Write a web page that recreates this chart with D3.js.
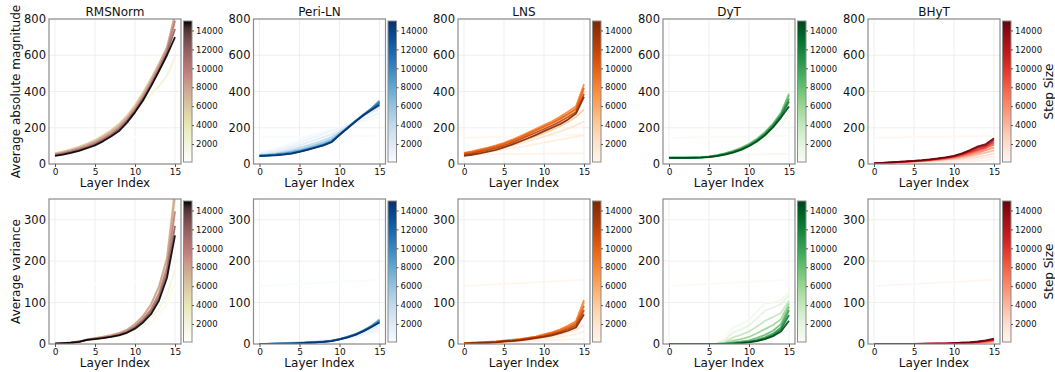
<!DOCTYPE html>
<html>
<head>
<meta charset="utf-8">
<script src="https://cdn.jsdelivr.net/npm/d3@7/dist/d3.min.js"></script>
<style>
  body { margin: 0; background: #fff; }
  svg { font-family: "DejaVu Sans", sans-serif; }
</style>
</head>
<body>
<svg id="chart" width="1055" height="372"></svg>
<script>
const layers = [0, 1, 2, 3, 4, 5, 6, 7, 8, 9, 10, 11, 12, 13, 14, 15];
const steps = [100, 500, 1000, 2000, 4000, 6000, 8000, 10000, 12000, 15000];
const methods = ["RMSNorm", "Peri-LN", "LNS", "DyT", "BHyT"];
const layerTicks = [0, 5, 10, 15];
const magTicks = [0, 200, 400, 600, 800];
const varTicks = [0, 100, 200, 300];
const stepTicks = [2000, 4000, 6000, 8000, 10000, 12000, 14000];

// average absolute magnitude, one row per step
const rmsnormMag = [
  [140,141,142,143,144,145,146,147,148,149,150,151,152,153,154,155],
  [56,65,76,89,105,124,147,174,206,245,290,335,378,425,478,560],
  [57,66,78,91,108,128,152,180,213,253,298,342,382,428,482,575],
  [58,67,79,93,110,130,155,184,217,258,303,345,385,432,490,592],
  [60,70,82,96,113,133,158,188,223,268,325,395,472,555,645,770],
  [59,68,80,94,111,130,155,184,219,264,321,392,470,555,648,830],
  [56,64,75,88,105,123,147,175,209,254,310,380,458,545,640,820],
  [52,60,70,83,98,116,139,166,199,244,300,368,446,532,626,790],
  [48,56,65,77,92,109,132,159,191,236,292,358,436,520,612,745],
  [45,52,61,73,87,103,125,152,182,228,285,350,428,512,600,700]
];
const periMag = [
  [148,148,149,149,150,150,151,151,152,152,153,153,154,154,155,155],
  [62,72,84,98,114,132,148,163,177,190,200,210,222,236,248,258],
  [58,66,76,88,102,118,134,150,166,182,196,212,230,248,264,280],
  [54,60,68,78,90,104,118,133,148,165,185,210,236,262,285,305],
  [50,54,60,68,78,90,103,117,132,150,175,205,238,268,296,320],
  [48,51,56,62,70,80,92,105,120,138,168,203,238,272,305,340],
  [47,49,53,58,65,74,85,97,111,128,164,201,238,273,308,350],
  [46,48,51,55,61,70,81,93,106,124,162,199,237,272,305,345],
  [45,47,50,54,59,68,79,91,104,122,161,198,236,271,302,335],
  [44,46,48,52,57,67,78,90,103,120,160,197,234,269,298,325]
];
const lnsMag = [
  [145,146,147,148,149,150,151,152,153,154,155,156,157,158,159,160],
  [52,52,53,53,54,54,55,55,56,56,57,57,58,58,59,59],
  [50,55,60,66,72,79,86,94,102,110,118,126,134,142,150,160],
  [52,58,65,73,82,92,103,114,126,138,151,165,180,196,213,235],
  [55,62,70,79,89,100,112,125,139,154,170,188,208,230,260,300],
  [60,68,78,88,99,112,128,146,165,185,205,225,247,272,300,400],
  [62,70,80,91,103,117,134,153,173,194,215,236,260,288,318,440],
  [58,66,75,86,97,111,128,146,166,186,206,226,249,276,305,420],
  [52,59,68,78,89,102,118,136,155,174,193,212,234,259,287,385],
  [45,51,59,68,78,92,107,124,142,161,181,200,220,245,278,370]
];
const dytMag = [
  [145,146,146,147,148,148,149,150,150,151,152,152,153,154,154,155],
  [38,38,39,40,41,42,44,46,48,50,52,53,54,55,56,57],
  [36,36,36,37,38,40,44,50,58,70,86,108,135,170,215,280],
  [36,36,36,37,38,41,47,56,68,84,105,132,168,212,268,340],
  [35,35,35,36,38,42,49,59,72,90,112,140,178,224,282,370],
  [35,35,35,36,38,42,49,59,72,89,111,139,176,222,282,390],
  [35,35,35,36,37,41,48,58,70,87,108,136,173,220,280,380],
  [35,35,35,35,37,40,47,56,68,84,105,132,169,215,272,360],
  [34,34,34,35,36,39,45,54,66,81,102,128,164,209,265,345],
  [34,34,34,34,35,38,44,52,63,78,98,124,158,202,256,318]
];
const bhytMag = [
  [145,146,146,147,148,148,149,150,150,151,152,152,153,154,154,155],
  [2,3,4,5,6,7,8,9,10,11,12,14,16,18,21,25],
  [3,4,6,7,9,10,12,13,15,17,19,22,26,30,35,42],
  [3,5,7,9,11,13,15,17,19,22,25,29,34,40,48,58],
  [3,5,7,10,12,14,16,19,22,26,30,36,44,53,63,75],
  [3,5,8,10,12,15,17,20,24,28,34,42,52,63,76,92],
  [3,5,8,10,13,15,18,22,26,31,38,47,60,73,87,108],
  [4,6,8,11,13,16,19,23,28,34,41,52,66,81,95,120],
  [4,6,9,11,14,17,20,24,30,36,44,56,72,90,102,132],
  [4,6,9,12,14,17,21,26,31,37,45,59,77,97,110,142]
];

// average variance, one row per step
const rmsnormVar = [
  [140,141,142,143,144,145,146,147,148,149,150,151,152,153,154,155],
  [1,2,3,4,7,9,11,14,17,22,29,38,50,66,90,135],
  [1,2,3,5,8,11,13,16,20,25,33,43,55,72,98,150],
  [1,2,3,5,9,12,15,18,22,28,38,50,64,85,118,178],
  [1,2,3,6,10,13,16,20,25,32,45,62,86,125,190,350],
  [1,2,4,6,11,14,18,22,27,35,49,68,96,140,210,380],
  [1,2,4,6,11,14,17,21,26,34,48,67,95,138,205,360],
  [1,2,3,6,10,13,16,19,24,31,43,60,84,122,185,320],
  [1,2,3,5,10,13,15,18,22,29,40,56,78,113,172,285],
  [1,2,3,5,10,12,14,17,21,27,37,52,72,105,160,262]
];
const periVar = [
  [140,141,142,143,144,145,146,147,148,149,150,151,152,153,154,155],
  [0,1,1,2,2,3,4,5,6,8,10,13,17,21,26,32],
  [0,1,1,2,3,4,5,6,8,10,12,15,19,24,30,38],
  [0,1,1,2,3,4,5,6,7,9,12,16,21,28,36,45],
  [0,0,1,1,2,3,4,5,6,8,12,17,23,31,41,52],
  [0,0,1,1,2,3,4,5,6,8,12,17,24,33,44,60],
  [0,0,1,1,2,2,3,4,6,8,12,17,24,33,44,58],
  [0,0,1,1,2,2,3,4,5,8,12,17,23,32,43,56],
  [0,0,1,1,1,2,3,4,5,7,11,16,23,31,42,53],
  [0,0,0,1,1,2,3,4,5,7,11,16,22,31,41,52]
];
const lnsVar = [
  [140,141,142,143,144,145,146,147,148,149,150,151,152,153,154,155],
  [1,2,2,3,3,4,5,5,6,7,8,9,10,11,12,13],
  [1,2,3,3,4,5,6,7,9,10,12,14,17,20,24,30],
  [1,2,3,4,5,6,7,9,11,13,16,19,23,28,34,46],
  [1,2,3,4,5,7,9,11,13,16,20,24,30,38,48,80],
  [2,3,4,5,6,8,10,12,15,18,23,28,35,44,54,100],
  [2,3,4,5,6,8,10,12,15,18,23,28,35,44,55,106],
  [2,2,3,4,5,7,9,11,14,17,21,26,32,40,50,92],
  [1,2,3,4,5,7,8,10,13,16,19,24,29,36,45,82],
  [1,2,2,3,4,6,7,9,11,14,17,21,26,32,40,72]
];
const dytVar = [
  [140,141,142,143,144,145,146,147,148,149,150,151,152,153,154,155],
  [0,0,0,0,0,0,0,1,3,5,8,12,16,20,26,35],
  [0,0,0,0,0,0,1,12,40,48,58,78,98,100,106,125],
  [0,0,0,0,0,0,1,8,28,35,45,62,80,88,96,118],
  [0,0,0,0,0,0,0,4,16,22,30,42,56,65,75,105],
  [0,0,0,0,0,0,0,2,8,12,17,26,36,46,60,98],
  [0,0,0,0,0,0,0,1,4,6,9,15,22,32,48,90],
  [0,0,0,0,0,0,0,1,2,4,6,10,16,25,40,82],
  [0,0,0,0,0,0,0,0,1,3,5,8,13,21,35,70],
  [0,0,0,0,0,0,0,0,1,2,4,7,12,19,30,56]
];
const bhytVar = [
  [140,141,142,143,144,145,146,147,148,149,150,151,152,153,154,155],
  [0,0,0,0,0,0,0,0,0,0,0,0,1,1,1,2],
  [0,0,0,0,0,0,0,0,0,0,0,1,1,1,2,3],
  [0,0,0,0,0,0,0,0,0,0,1,1,1,2,3,4],
  [0,0,0,0,0,0,0,0,0,1,1,1,2,3,4,6],
  [0,0,0,0,0,0,0,0,1,1,1,2,2,3,5,7],
  [0,0,0,0,0,0,0,0,1,1,1,2,3,4,6,9],
  [0,0,0,0,0,0,0,1,1,1,2,2,3,5,7,10],
  [0,0,0,0,0,0,0,1,1,1,2,3,4,5,8,11],
  [0,0,0,0,0,0,1,1,1,1,2,3,4,6,9,13]
];

const magData = [rmsnormMag, periMag, lnsMag, dytMag, bhytMag];
const varData = [rmsnormVar, periVar, lnsVar, dytVar, bhytVar];

// matplotlib "pink_r" approximation
function pinkR(t) {
  const x = 1 - t;
  const cl = v => Math.max(0, Math.min(1, v));
  const hr = cl(x / 0.365), hg = cl((x - 0.365) / 0.381), hb = cl((x - 0.746) / 0.254);
  const c = h => Math.round(255 * Math.sqrt((2 * x + h) / 3));
  return `rgb(${c(hr)},${c(hg)},${c(hb)})`;
}
const cmaps = [pinkR, d3.interpolateBlues, d3.interpolateOranges, d3.interpolateGreens, d3.interpolateReds];

const svg = d3.select("#chart");
const defs = svg.append("defs");

const colLeft = [49, 253.5, 458, 663, 868];
const plotW = 132;
const rows = [
  {top: 19, bottom: 164, max: 800, ticks: magTicks, data: magData, label: "Average absolute magnitude"},
  {top: 199, bottom: 344, max: 350, ticks: varTicks, data: varData, label: "Average variance"}
];
const stepNorm = d3.scaleLinear().domain([100, 15000]).range([0, 1]);

rows.forEach((row, r) => {
  methods.forEach((m, c) => {
    const x0 = colLeft[c];
    const x = d3.scaleLinear().domain([-0.75, 15.75]).range([x0, x0 + plotW]);
    const y = d3.scaleLinear().domain([0, row.max]).range([row.bottom, row.top]);
    const g = svg.append("g");
    const clipId = `clip-${r}-${c}`;
    defs.append("clipPath").attr("id", clipId)
      .append("rect").attr("x", x0).attr("y", row.top).attr("width", plotW).attr("height", row.bottom - row.top);

    // grid
    g.selectAll(".gx").data(layerTicks).enter().append("line")
      .attr("x1", d => x(d)).attr("x2", d => x(d)).attr("y1", row.top).attr("y2", row.bottom)
      .attr("stroke", "#ebebeb").attr("stroke-width", 0.8);
    g.selectAll(".gy").data(row.ticks).enter().append("line")
      .attr("x1", x0).attr("x2", x0 + plotW).attr("y1", d => y(d)).attr("y2", d => y(d))
      .attr("stroke", "#ebebeb").attr("stroke-width", 0.8);

    // lines
    const line = d3.line().x((v, i) => x(layers[i])).y(v => y(v));
    const cmap = cmaps[c];
    g.append("g").attr("clip-path", `url(#${clipId})`)
      .selectAll("path").data(row.data[c]).enter().append("path")
      .attr("d", line)
      .attr("fill", "none")
      .attr("stroke", (d, i) => cmap(stepNorm(steps[i])))
      .attr("stroke-width", 1.8)
      .attr("stroke-opacity", 0.9)
      .attr("stroke-linejoin", "round");

    // frame
    g.append("rect").attr("x", x0).attr("y", row.top).attr("width", plotW).attr("height", row.bottom - row.top)
      .attr("fill", "none").attr("stroke", "#8c8c8c").attr("stroke-width", 1.2);

    // axes
    const xa = g.append("g").attr("transform", `translate(0,${row.bottom})`)
      .call(d3.axisBottom(x).tickValues(layerTicks).tickSize(3).tickPadding(2));
    xa.select(".domain").remove();
    xa.selectAll("line").attr("stroke", "#555");
    xa.selectAll("text").attr("font-size", 9).attr("fill", "#111").attr("font-family", "DejaVu Sans");

    const ya = g.append("g").attr("transform", `translate(${x0},0)`)
      .call(d3.axisLeft(y).tickValues(row.ticks).tickSize(0).tickPadding(3));
    ya.select(".domain").remove();
    ya.selectAll("text").attr("font-size", 11.5).attr("fill", "#111").attr("font-family", "DejaVu Sans");

    g.append("text").attr("x", x0 + plotW / 2).attr("y", row.bottom + 23)
      .attr("text-anchor", "middle").attr("font-size", 12).attr("fill", "#111").text("Layer Index");

    if (r === 0) {
      g.append("text").attr("x", x0 + plotW / 2).attr("y", 16)
        .attr("text-anchor", "middle").attr("font-size", 12).attr("fill", "#111").text(m);
    }

    // colorbar
    const cbX = x0 + plotW + 2.5, cbW = 8.5, cbTop = row.top + 2, cbBot = row.bottom - 2;
    const gradId = `grad-${r}-${c}`;
    const grad = defs.append("linearGradient").attr("id", gradId)
      .attr("x1", 0).attr("y1", 1).attr("x2", 0).attr("y2", 0);
    d3.range(0, 1.0001, 0.05).forEach(t => {
      grad.append("stop").attr("offset", t).attr("stop-color", cmap(t));
    });
    g.append("rect").attr("x", cbX).attr("y", cbTop).attr("width", cbW).attr("height", cbBot - cbTop)
      .attr("fill", `url(#${gradId})`).attr("stroke", "#8c8c8c").attr("stroke-width", 1);
    const cbScale = d3.scaleLinear().domain([100, 15000]).range([cbBot, cbTop]);
    const ca = g.append("g").attr("transform", `translate(${cbX + cbW},0)`)
      .call(d3.axisRight(cbScale).tickValues(stepTicks).tickSize(2).tickPadding(2).tickFormat(d3.format("d")));
    ca.select(".domain").remove();
    ca.selectAll("line").attr("stroke", "#555");
    ca.selectAll("text").attr("font-size", 8.5).attr("fill", "#111").attr("font-family", "DejaVu Sans");

    if (c === 4) {
      g.append("text")
        .attr("transform", `translate(1053,${(row.top + row.bottom) / 2}) rotate(-90)`)
        .attr("text-anchor", "middle").attr("font-size", 12).attr("fill", "#111").text("Step Size");
    }
  });

  svg.append("text")
    .attr("transform", `translate(20,${(row.top + row.bottom) / 2}) rotate(-90)`)
    .attr("text-anchor", "middle").attr("font-size", 12).attr("fill", "#111").text(row.label);
});
</script>
</body>
</html>
